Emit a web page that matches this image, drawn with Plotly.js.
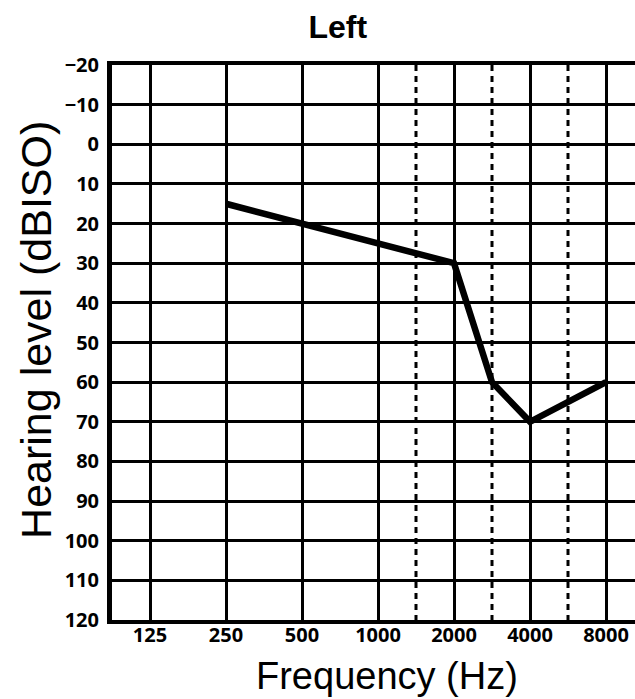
<!DOCTYPE html>
<html>
<head>
<meta charset="utf-8">
<script src="https://cdn.plot.ly/plotly-3.0.1.min.js"></script>
<style>
html,body{margin:0;padding:0;background:#fff;}
#chart{width:635px;height:699px;}
</style>
</head>
<body>
<div id="chart"></div>
<script>
// Data
const frequencies = [250, 500, 1000, 2000, 3000, 4000, 8000];
const hearingLevels = [15, 20, 25, 30, 60, 70, 60];
const freqTicks = [125, 250, 500, 1000, 2000, 4000, 8000];
const freqTickLabels = ["125", "250", "500", "1000", "2000", "4000", "8000"];
const interOctaveFreqs = [1500, 3000, 6000];
const levelTicks = [-20, -10, 0, 10, 20, 30, 40, 50, 60, 70, 80, 90, 100, 110, 120];
const levelRange = [120, -20];

// Audiogram position: octaves evenly spaced, inter-octave frequencies halfway between.
function audioPos(f) {
  const oct = Math.log2(f / 125);
  if (Math.abs(oct - Math.round(oct)) < 1e-9) return Math.round(oct);
  return Math.log2(f / 1.5 / 125) + 0.5;
}

const plotLeft = 112, plotRight = 635, pxPerOctave = 76;
const xRange = [-0.5, -0.5 + (plotRight - plotLeft) / pxPerOctave];

const traces = [];
interOctaveFreqs.forEach(f => {
  traces.push({
    x: [audioPos(f), audioPos(f)], y: [levelRange[1], levelRange[0]],
    mode: 'lines', type: 'scatter', hoverinfo: 'skip', showlegend: false,
    line: {color: '#000', width: 3, dash: '6px,5px'}
  });
});
traces.push({
  x: frequencies.map(audioPos), y: hearingLevels, mode: 'lines', type: 'scatter',
  text: frequencies.map(String), showlegend: false, line: {color: '#000', width: 6.5}
});

const tickFont = {family: 'Open Sans, Liberation Sans, sans-serif', size: 20, color: '#000', weight: 700};
const titleFamily = 'Liberation Sans, Arial, sans-serif';

const layout = {
  width: 635, height: 699,
  margin: {l: plotLeft, r: 0, t: 65, b: 79},
  paper_bgcolor: '#fff', plot_bgcolor: '#fff',
  title: {text: 'Left', xref: 'container', x: 0.532, xanchor: 'center',
          yref: 'container', y: 0.962, yanchor: 'middle',
          font: {family: titleFamily, size: 32, color: '#000', weight: 700}},
  xaxis: {
    type: 'linear', range: xRange,
    tickvals: freqTicks.map(audioPos), ticktext: freqTickLabels, ticks: '',
    tickfont: tickFont, ticklabelstandoff: -6,
    showgrid: true, gridcolor: '#000', gridwidth: 3,
    showline: true, linecolor: '#000', linewidth: 4, mirror: true,
    zeroline: false
  },
  yaxis: {
    range: levelRange, tickvals: levelTicks, ticks: '',
    tickfont: tickFont, ticklabelstandoff: 4,
    showgrid: true, gridcolor: '#000', gridwidth: 3,
    showline: true, linecolor: '#000', linewidth: 5,
    zeroline: false
  },
  annotations: [
    {text: 'Frequency (Hz)', xref: 'paper', yref: 'paper', x: 0.526, y: -0.1,
     xanchor: 'center', yanchor: 'middle', showarrow: false,
     font: {family: titleFamily, size: 38, color: '#000'}},
    {text: 'Hearing level (dBISO)', xref: 'paper', yref: 'paper', x: -0.145, y: 0.523,
     xanchor: 'center', yanchor: 'middle', showarrow: false, textangle: -90,
     font: {family: titleFamily, size: 43, color: '#000'}}
  ]
};

Plotly.newPlot('chart', traces, layout, {displayModeBar: false, staticPlot: true});
</script>
</body>
</html>
